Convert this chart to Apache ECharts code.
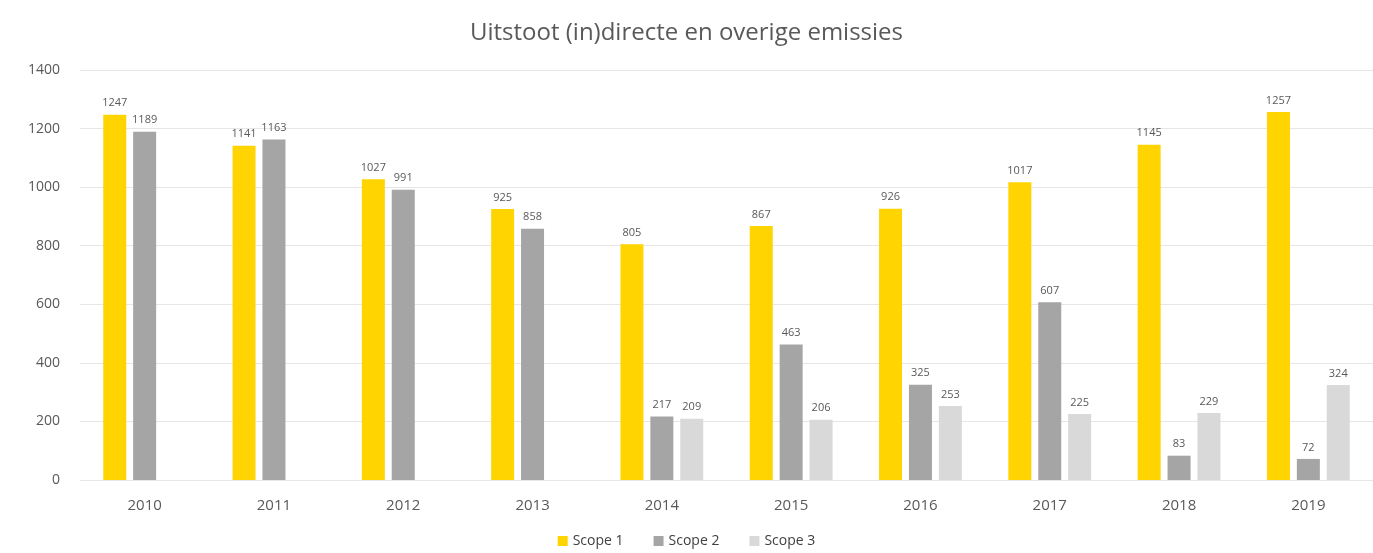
<!DOCTYPE html>
<html>
<head>
<meta charset="utf-8">
<script src="https://cdn.jsdelivr.net/npm/echarts@6/dist/echarts.min.js"></script>
<style>
  html, body { margin: 0; padding: 0; background: #fff; }
  #chart { width: 1373px; height: 553px; }
</style>
</head>
<body>
<div id="chart"></div>
<script>
// jaren en waarden uit de grafiek
const years = ['2010', '2011', '2012', '2013', '2014', '2015', '2016', '2017', '2018', '2019']
const scope1 = [1247, 1141, 1027, 925, 805, 867, 926, 1017, 1145, 1257]
const scope2 = [1189, 1163, 991, 858, 217, 463, 325, 607, 83, 72]
const scope3 = [null, null, null, null, 209, 206, 253, 225, 229, 324]

const chart = echarts.init(document.getElementById('chart'))

const labelStyle = {
  show: true,
  position: 'top',
  color: '#595959',
  fontSize: 11,
  fontFamily: 'Open Sans',
  distance: 6
}

function barSeries(name, data, color) {
  return {
    name: name,
    type: 'bar',
    data: data,
    barWidth: 23,
    barGap: '30%',
    itemStyle: { color: color },
    label: labelStyle
  }
}

chart.setOption({
  animation: false,
  title: {
    text: 'Uitstoot (in)directe en overige emissies',
    left: 'center',
    top: 16,
    textStyle: {
      color: '#595959',
      fontSize: 24,
      fontWeight: 'normal',
      fontFamily: 'Open Sans'
    }
  },
  legend: {
    bottom: 0,
    left: 'center',
    icon: 'rect',
    itemWidth: 10,
    itemHeight: 10,
    itemGap: 30,
    textStyle: { color: '#404040', fontSize: 14, fontFamily: 'Open Sans' },
    data: ['Scope 1', 'Scope 2', 'Scope 3']
  },
  grid: {
    left: 80,
    right: -8,
    top: 70,
    bottom: 73
  },
  xAxis: {
    type: 'category',
    data: years,
    axisLine: { lineStyle: { color: '#e6e6e6' } },
    axisTick: { show: false },
    axisLabel: { color: '#595959', fontSize: 15, margin: 18, fontFamily: 'Open Sans' }
  },
  yAxis: {
    type: 'value',
    min: 0,
    max: 1400,
    interval: 200,
    axisLine: { show: false },
    axisTick: { show: false },
    axisLabel: {
      color: '#595959',
      fontSize: 14,
      margin: 20,
      fontFamily: 'Open Sans',
      formatter: v => String(v)
    },
    splitLine: { lineStyle: { color: '#e6e6e6' } }
  },
  series: [
    barSeries('Scope 1', scope1, '#FFD400'),
    barSeries('Scope 2', scope2, '#A5A5A5'),
    barSeries('Scope 3', scope3, '#D9D9D9')
  ]
})
</script>
</body>
</html>
